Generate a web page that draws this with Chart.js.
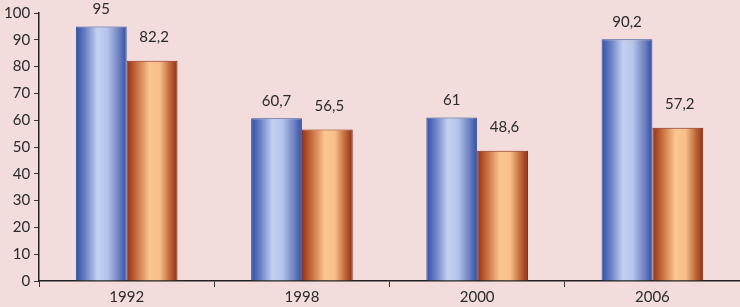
<!DOCTYPE html>
<html><head><meta charset="utf-8">
<script src="https://cdn.jsdelivr.net/npm/chart.js@4/dist/chart.umd.min.js"></script>
<style>html,body{margin:0;padding:0;background:#f2dcdc;}#wrap{width:740px;height:307px;}</style>
</head><body><div id="wrap"><canvas id="c" width="740" height="307"></canvas></div>
<script>
const categories = ['1992', '1998', '2000', '2006'];
const seriesA = [95, 60.7, 61, 90.2];
const seriesB = [82.2, 56.5, 48.6, 57.2];
const yTicks = [0, 10, 20, 30, 40, 50, 60, 70, 80, 90, 100];

const CAT_PCT = 0.58;
const FONT = 'Lato, "Open Sans", sans-serif';
const gradStops = [
  [['#3050a8',0],['#6a7fc4',0.18],['#c3d1f0',0.42],['#b4c4ea',0.62],['#6d7fc0',0.85],['#3050a5',1]],
  [['#953018',0],['#c8703f',0.2],['#fbc690',0.45],['#f8c08a',0.65],['#c06838',0.85],['#8e2e18',1]]
];
const solid = ['#5670b8', '#d08050'];
function barGradient(c){
  const chart = c.chart;
  const xs = chart.scales && chart.scales.x;
  if (!chart.chartArea || !xs || c.dataIndex === undefined) return solid[c.datasetIndex];
  const center = xs.getPixelForValue(c.dataIndex);
  const catW = xs.width / chart.data.labels.length;
  const bw = catW * CAT_PCT / 2;
  const left = c.datasetIndex === 0 ? center - bw : center;
  const g = chart.ctx.createLinearGradient(left, 0, left + bw, 0);
  gradStops[c.datasetIndex].forEach(s => g.addColorStop(s[1], s[0]));
  return g;
}
const labelOffsets = [10, 16];
const labelPlugin = {
  id:'lbl',
  afterDatasetsDraw(chart){
    const ctx = chart.ctx;
    ctx.save();
    ctx.font = '15px ' + FONT;
    ctx.fillStyle = '#2a2a2a';
    ctx.textAlign = 'center';
    ctx.textBaseline = 'bottom';
    chart.data.datasets.forEach((ds,di)=>{
      chart.getDatasetMeta(di).data.forEach((el,i)=>{
        const txt = String(ds.data[i]).replace('.', ',');
        ctx.fillText(txt, el.x + (di===1?2:0), el.y - labelOffsets[di]);
      });
    });
    ctx.restore();
  }
};

new Chart(document.getElementById('c'), {
  type:'bar',
  data:{labels:categories, datasets:[
    {data:seriesA, backgroundColor:barGradient, borderColor:'#34509c', borderWidth:1, borderSkipped:'bottom'},
    {data:seriesB, backgroundColor:barGradient, borderColor:'#8a2c16', borderWidth:1, borderSkipped:'bottom'}
  ]},
  options:{
    responsive:false, animation:false,
    layout:{padding:{top:11, right:0, left:0, bottom:0}},
    plugins:{legend:{display:false}, tooltip:{enabled:false}},
    datasets:{bar:{categoryPercentage:CAT_PCT, barPercentage:1}},
    scales:{
      x:{
        grid:{offset:true, drawOnChartArea:false, tickLength:6, color:'#333'},
        border:{color:'#222', width:1.5},
        ticks:{color:'#2a2a2a', font:{family:FONT, size:15}, padding:1}
      },
      y:{
        min:0, max:100,
        afterBuildTicks(ax){ ax.ticks = yTicks.map(v=>({value:v})); },
        grid:{drawOnChartArea:false, tickLength:5, color:'#333'},
        border:{color:'#222', width:1.5},
        ticks:{color:'#2a2a2a', font:{family:FONT, size:15}, padding:4}
      }
    }
  },
  plugins:[labelPlugin]
});
</script>
</body></html>
